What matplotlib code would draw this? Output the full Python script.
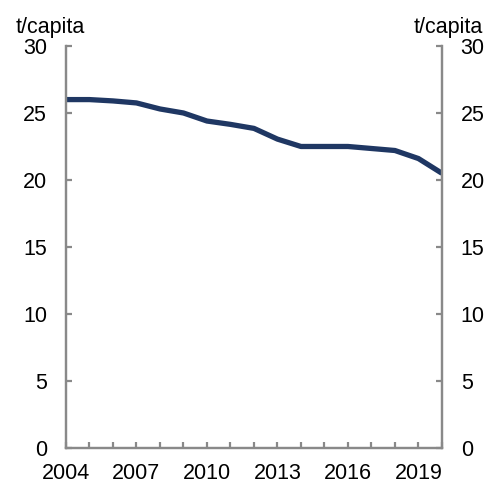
import matplotlib.pyplot as plt

plt.rcParams["font.family"] = ["Liberation Sans", "DejaVu Sans"]

years = list(range(2004, 2021))
emissions = [26.0, 26.0, 25.9, 25.75, 25.3, 25.0, 24.4, 24.15, 23.85, 23.05,
             22.5, 22.5, 22.5, 22.35, 22.2, 21.6, 20.5]
year_ticks = [2004, 2007, 2010, 2013, 2016, 2019]
y_ticks = [0, 5, 10, 15, 20, 25, 30]
unit = "t/capita"

spine_col = "#898989"
line_col = "#1f3763"
fs = 15.5

fig = plt.figure(figsize=(4.96, 4.84), dpi=100)
ax = fig.add_axes([0.133, 0.0744, 0.758, 0.8306])
ax.plot(years, emissions, color=line_col, lw=3.8, solid_capstyle="butt")

ax.set_xlim(2004, 2020)
ax.set_ylim(0, 30)
ax.set_xticks(years)
ax.set_xticklabels([str(y) if y in year_ticks else "" for y in years])
ax.set_yticks(y_ticks)

ax2 = ax.twinx()
ax2.set_ylim(0, 30)
ax2.set_yticks(y_ticks)

for a in (ax, ax2):
    a.spines["top"].set_visible(False)
    for s in ("left", "right", "bottom"):
        a.spines[s].set_color(spine_col)
        a.spines[s].set_linewidth(1.6)
    a.tick_params(direction="in", length=4.5, width=1.6, color=spine_col,
                  labelsize=fs, labelcolor="black", pad=13.5)

ax.tick_params(axis="x", pad=11)

fig.text(0.032, 0.943, unit, fontsize=fs, ha="left", va="center")
fig.text(0.974, 0.943, unit, fontsize=fs, ha="right", va="center")

fig.savefig("out.png", dpi=100)
